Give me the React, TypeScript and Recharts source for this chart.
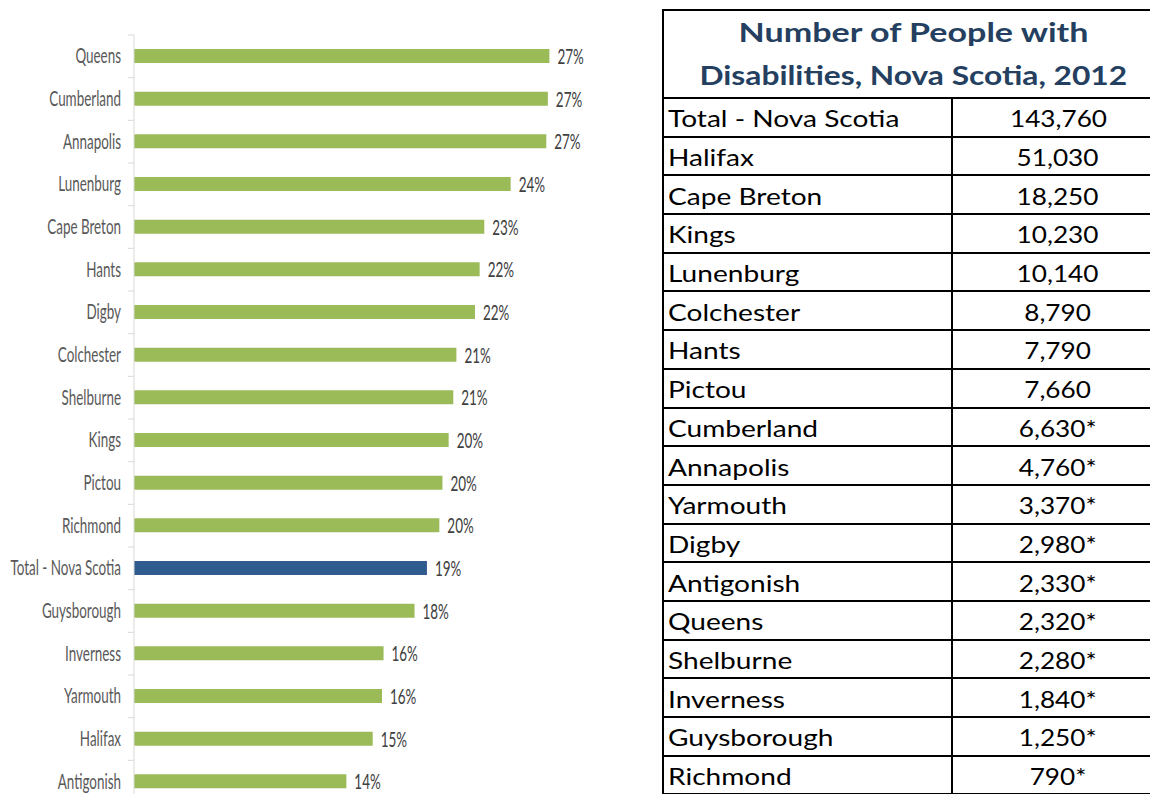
import React from "react";
import { BarChart, Bar, XAxis, YAxis, Cell, LabelList } from "recharts";

const regions = [
  "Queens", "Cumberland", "Annapolis", "Lunenburg", "Cape Breton", "Hants", "Digby",
  "Colchester", "Shelburne", "Kings", "Pictou", "Richmond", "Total - Nova Scotia",
  "Guysborough", "Inverness", "Yarmouth", "Halifax", "Antigonish",
];
const rates = [26.8, 26.7, 26.6, 24.3, 22.6, 22.3, 22.0, 20.8, 20.6, 20.3, 19.9, 19.7, 18.9, 18.1, 16.1, 16.0, 15.4, 13.7];

const tableTitle = ["Number of People with", "Disabilities, Nova Scotia, 2012"];
const tableRegions = [
  "Total - Nova Scotia", "Halifax", "Cape Breton", "Kings", "Lunenburg", "Colchester",
  "Hants", "Pictou", "Cumberland", "Annapolis", "Yarmouth", "Digby", "Antigonish",
  "Queens", "Shelburne", "Inverness", "Guysborough", "Richmond",
];
const tableCounts = [143760, 51030, 18250, 10230, 10140, 8790, 7790, 7660, 6630, 4760, 3370, 2980, 2330, 2320, 2280, 1840, 1250, 790];
const tableFlagged = [false, false, false, false, false, false, false, false, true, true, true, true, true, true, true, true, true, true];

const TOTAL_NAME = "Total - Nova Scotia";
const data = regions.map((name, i) => ({ name, rate: rates[i] }));

const CHART_W = 600;
const CHART_H = 803;
const MARGIN_TOP = 35;
const AXIS_W = 134;
const BAND = (CHART_H - MARGIN_TOP) / regions.length;
const SQUEEZE = 0.64;
const FONT = "Lato, 'Open Sans', sans-serif";

const YTick = (props: any) => {
  const { x, y, payload } = props;
  return (
    <g>
      <line x1={AXIS_W - 6} x2={AXIS_W} y1={y - BAND / 2} y2={y - BAND / 2} stroke="#d9d9d9" strokeWidth={1} />
      <g transform={`translate(${x},${y}) scale(${SQUEEZE},1)`}>
        <text x={0} y={0} dy={7} textAnchor="end" fill="#595959" fontSize={21} fontFamily={FONT}>
          {payload.value}
        </text>
      </g>
    </g>
  );
};

const ValueLabel = (props: any) => {
  const { x, y, width, height, value } = props;
  const tx = x + width + 8;
  const ty = y + height / 2;
  return (
    <g transform={`translate(${tx},${ty}) scale(${SQUEEZE},1)`}>
      <text x={0} y={0} dy={8} textAnchor="start" fill="#404040" fontSize={21} fontFamily={FONT}>
        {`${Math.round(value)}%`}
      </text>
    </g>
  );
};

const cellBorder = "2px solid #000";

const Stretch = ({ k, origin, children, shift = 0 }: any) => (
  <span
    style={{
      display: "inline-block",
      transform: `translateY(${shift}px) scaleX(${k})`,
      transformOrigin: origin,
      whiteSpace: "nowrap",
    }}
  >
    {children}
  </span>
);

export default function App() {
  return (
    <div style={{ position: "absolute", left: 0, top: 0, width: 1150, height: 794, overflow: "hidden", background: "#fff" }}>
      <style>{`html, body { overflow: hidden; }`}</style>
      <div style={{ position: "absolute", left: 0, top: 0 }}>
        <BarChart
          width={CHART_W}
          height={CHART_H}
          data={data}
          layout="vertical"
          margin={{ top: MARGIN_TOP, right: 1, bottom: 0, left: 0 }}
          barCategoryGap={0}
        >
          <XAxis type="number" domain={[0, 30]} hide />
          <YAxis
            type="category"
            dataKey="name"
            width={AXIS_W}
            axisLine={{ stroke: "#d9d9d9" }}
            tickLine={false}
            tickMargin={7}
            interval={0}
            tick={<YTick />}
          />
          <Bar dataKey="rate" barSize={14} isAnimationActive={false}>
            {data.map((d) => (
              <Cell key={d.name} fill={d.name === TOTAL_NAME ? "#2f5b8f" : "#9bbb59"} />
            ))}
            <LabelList dataKey="rate" content={<ValueLabel />} />
          </Bar>
        </BarChart>
      </div>
      <div style={{ position: "absolute", left: 662, top: 9, width: 488, height: 785, overflow: "hidden" }}>
        <table
          style={{
            width: 501,
            minWidth: 501,
            borderCollapse: "collapse",
            tableLayout: "fixed",
            fontFamily: FONT,
            color: "#000",
          }}
        >
          <colgroup>
            <col style={{ width: 289 }} />
            <col style={{ width: 212 }} />
          </colgroup>
          <tbody>
            <tr>
              <td
                colSpan={2}
                style={{
                  border: cellBorder,
                  height: 86,
                  padding: 0,
                  textAlign: "center",
                  fontWeight: 700,
                  fontSize: 26,
                  lineHeight: "43px",
                  color: "#243f60",
                }}
              >
                <Stretch k={1.31} origin="center">{tableTitle[0]}</Stretch>
                <br />
                <Stretch k={1.22} origin="center">{tableTitle[1]}</Stretch>
              </td>
            </tr>
            {tableRegions.map((r, i) => (
              <tr key={r}>
                <td style={{ border: cellBorder, height: 36.7, padding: "0 0 0 4px", fontSize: 24, lineHeight: "36px", whiteSpace: "nowrap" }}>
                  <Stretch k={1.17} origin="left center" shift={1}>{r}</Stretch>
                </td>
                <td style={{ border: cellBorder, height: 36.7, padding: 0, fontSize: 24, lineHeight: "36px", textAlign: "center" }}>
                  <Stretch k={1.09} origin="center" shift={1}>
                    {tableCounts[i].toLocaleString("en-US") + (tableFlagged[i] ? "*" : "")}
                  </Stretch>
                </td>
              </tr>
            ))}
          </tbody>
        </table>
      </div>
    </div>
  );
}
